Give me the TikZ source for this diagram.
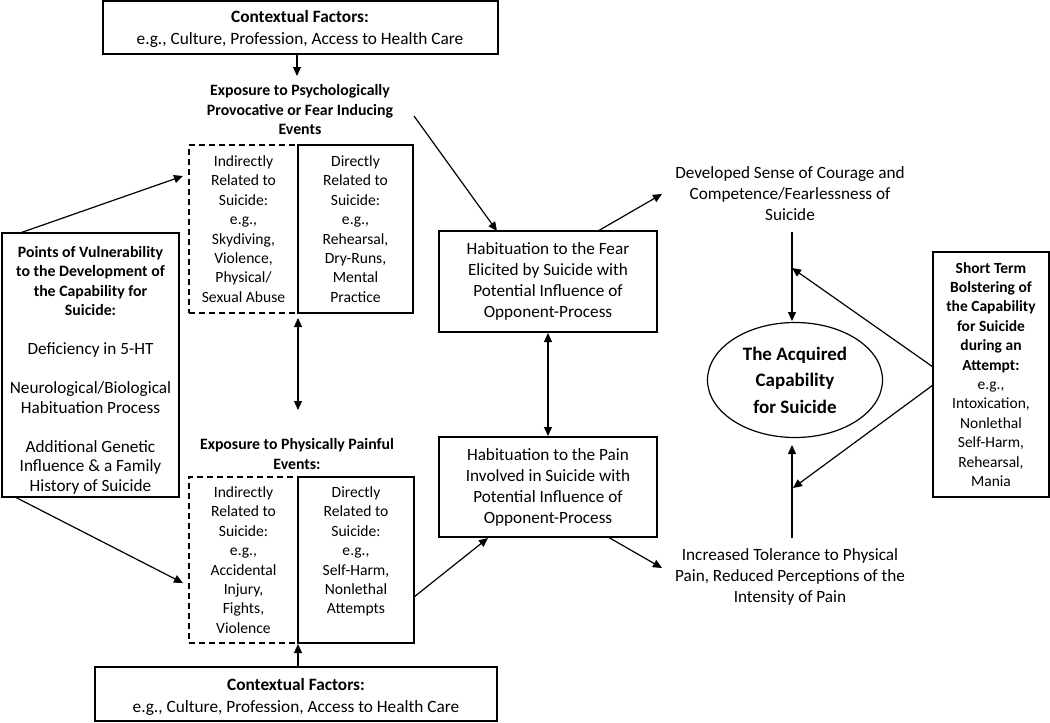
\documentclass[tikz,border=0pt]{standalone}
\usepackage{fontspec}
\setmainfont{Carlito}
\usetikzlibrary{arrows.meta,shapes.geometric}
\newcommand\vbline[1]{{\fontsize{15.8}{19.5}\selectfont\bfseries #1}}
\tikzset{
  split/.style={font=\fontsize{15.6}{19.4}\selectfont},
  ctx/.style={font=\fontsize{17.3}{22}\selectfont},
  vul/.style={font=\fontsize{17.2}{19.5}\selectfont},
  hab/.style={font=\fontsize{17.2}{21}\selectfont},
  stt/.style={font=\fontsize{15.5}{19.4}\selectfont},
  boldt/.style={font=\fontsize{15.8}{19.5}\selectfont\bfseries},
  box/.style={draw, line width=1.2pt, align=center, inner sep=0pt},
  dbox/.style={box, dash pattern=on 6pt off 4pt},
  txt/.style={align=center, inner sep=0pt},
  arr/.style={line width=1.2pt, -{Triangle[length=9pt,width=8pt]}},
  darr/.style={line width=1.2pt, {Triangle[length=9pt,width=8pt]}-{Triangle[length=9pt,width=8pt]}},
}
\begin{document}
\begin{tikzpicture}[x=1pt,y=-1pt]
\useasboundingbox (0,0) rectangle (1050,723);

% top contextual factors
\node[box, minimum width=395pt, minimum height=53pt] (ctxTop) at (300.5,27.5) {};
\node[txt, ctx] (ctxTopT) at (300,29)
  {\textbf{Contextual Factors:}\\e.g., Culture, Profession, Access to Health Care};
\node[txt, boldt] (expPsy) at (300,110)
  {Exposure to Psychologically\\Provocative or Fear Inducing\\Events};

% upper split box
\node[dbox, split, minimum width=109pt, minimum height=168pt] (upL) at (243.5,229)
  {Indirectly\\Related to\\Suicide:\\e.g.,\\Skydiving,\\Violence,\\Physical/\\Sexual Abuse};
\node[box, split, minimum width=115pt, minimum height=168pt] (upR) at (355.5,229)
  {Directly\\Related to\\Suicide:\\e.g.,\\Rehearsal,\\Dry-Runs,\\Mental\\Practice};

% lower split box
\node[txt, boldt] (expPain) at (297,454)
  {Exposure to Physically Painful\\Events:};
\node[dbox, split, minimum width=109pt, minimum height=166pt] (loL) at (243.5,560)
  {Indirectly\\Related to\\Suicide:\\e.g.,\\Accidental\\Injury,\\Fights,\\Violence};
\node[box, split, minimum width=116pt, minimum height=166pt] (loR) at (356,560)
  {Directly\\Related to\\Suicide:\\e.g.,\\Self-Harm,\\Nonlethal\\Attempts\\\mbox{}};

% bottom contextual factors
\node[box, minimum width=402pt, minimum height=54pt] (ctxBot) at (296,694) {};
\node[txt, ctx] (ctxBotT) at (296,696.5)
  {\textbf{Contextual Factors:}\\e.g., Culture, Profession, Access to Health Care};

% vulnerability box
\node[box, minimum width=177pt, minimum height=264pt] (vuln) at (90.5,365) {};
\node[txt, vul] (vulnT) at (90.5,370)
  {\vbline{Points of Vulnerability}\\\vbline{to the Development of}\\\vbline{the Capability for}\\\vbline{Suicide:}\\[19.5pt]
   Deficiency in 5-HT\\[19.5pt]
   Neurological/Biological\\Habituation Process\\[19.5pt]
   Additional Genetic\\Influence \& a Family\\History of Suicide};

% habituation boxes
\node[box, hab, minimum width=218pt, minimum height=101pt] (habFear) at (548,281.5)
  {Habituation to the Fear\\Elicited by Suicide with\\Potential Influence of\\Opponent-Process};
\node[box, hab, minimum width=218pt, minimum height=100pt] (habPain) at (548,487)
  {Habituation to the Pain\\Involved in Suicide with\\Potential Influence of\\Opponent-Process};

% outcome texts
\node[txt, hab] (dev) at (790,194)
  {Developed Sense of Courage and\\Competence/Fearlessness of\\Suicide};
\node[txt, hab] (inc) at (790,577)
  {Increased Tolerance to Physical\\Pain, Reduced Perceptions of the\\Intensity of Pain};

% acquired capability
\node[ellipse, draw, line width=1.2pt, inner sep=0pt, align=center, minimum width=175pt, minimum height=115pt,
      font=\fontsize{19}{26.5}\selectfont\bfseries] (acq) at (795,380)
  {The Acquired\\Capability\\for Suicide};

% short term box
\node[box, stt, minimum width=116pt, minimum height=245pt] (st) at (991,374.5)
  {\textbf{Short Term}\\\textbf{Bolstering of}\\\textbf{the Capability}\\\textbf{for Suicide}\\\textbf{during an}\\\textbf{Attempt:}\\
   e.g.,\\Intoxication,\\Nonlethal\\Self-Harm,\\Rehearsal,\\Mania};

% connector end points
\coordinate (c1s) at (297,54);   \coordinate (c1e) at (297,76);
\coordinate (c2s) at (20,233);   \coordinate (c2e) at (183,176);
\coordinate (c3s) at (15,497);   \coordinate (c3e) at (183,583);
\coordinate (c4s) at (298,318);  \coordinate (c4e) at (298,410);
\coordinate (c5s) at (298,667);  \coordinate (c5e) at (298,644);
\coordinate (c6s) at (414,116);  \coordinate (c6e) at (497,231);
\coordinate (c7s) at (598,231);  \coordinate (c7e) at (662,194);
\coordinate (c8s) at (548,333);  \coordinate (c8e) at (548,436);
\coordinate (c9s) at (414,597);  \coordinate (c9e) at (488,538);
\coordinate (c10s) at (608,537); \coordinate (c10e) at (662,568);
\coordinate (c11s) at (792,232); \coordinate (c11e) at (792,321);
\coordinate (c12s) at (792,538); \coordinate (c12e) at (792,445);
\coordinate (c13s) at (933,367); \coordinate (c13e) at (792,268);
\coordinate (c14s) at (933,385); \coordinate (c14e) at (793,488);

\draw[arr] (c1s) -- (c1e);
\draw[arr] (c2s) -- (c2e);
\draw[arr] (c3s) -- (c3e);
\draw[darr] (c4s) -- (c4e);
\draw[arr] (c5s) -- (c5e);
\draw[arr] (c6s) -- (c6e);
\draw[arr] (c7s) -- (c7e);
\draw[darr] (c8s) -- (c8e);
\draw[arr] (c9s) -- (c9e);
\draw[arr] (c10s) -- (c10e);
\draw[arr] (c11s) -- (c11e);
\draw[arr] (c12s) -- (c12e);
\draw[arr] (c13s) -- (c13e);
\draw[arr] (c14s) -- (c14e);
\end{tikzpicture}
\end{document}
